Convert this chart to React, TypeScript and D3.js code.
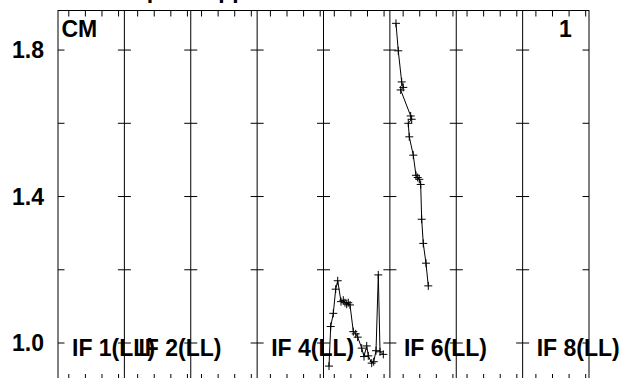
import React from "react";
import * as d3 from "d3";

const W = 627;
const H = 378;

const title = "Data with bandpass applied";
const panelLabels = ["IF 1(LL)", "IF 2(LL)", "", "IF 4(LL)", "", "IF 6(LL)", "", "IF 8(LL)"];
const yMajorTicks = [1.0, 1.4, 1.8];
const yAllTicks = [1.0, 1.2, 1.4, 1.6, 1.8];
const xTickValues = [0, 1, 2, 3];
const oddPanelDomain = [-0.65, 3.35];
const evenPanelDomain = [-0.8, 3.2];

// series in panel 5 (index 4)
const seriesATime = [-0.318, -0.216, -0.059, 0.085, 0.206, 0.405, 0.543, 0.646, 0.748, 0.845, 0.947, 1.146, 1.291, 1.411, 1.653, 1.791, 1.954, 2.05, 2.255, 2.376, 2.515, 2.653, 2.756, 2.955];
const seriesAValue = [0.937, 1.045, 1.081, 1.147, 1.17, 1.113, 1.117, 1.11, 1.106, 1.11, 1.104, 1.031, 1.025, 1.016, 0.986, 0.963, 0.992, 0.965, 0.945, 0.949, 0.979, 1.186, 0.976, 0.969];

// series in panel 6 (index 5)
const seriesBTime = [-0.432, -0.294, -0.089, 0.008, -0.149, 0.454, 0.514, 0.309, 0.369, 0.61, 0.773, 0.876, 0.972, 1.057, 1.117, 1.213, 1.376, 1.515];
const seriesBValue = [1.873, 1.798, 1.713, 1.698, 1.691, 1.62, 1.611, 1.6, 1.563, 1.513, 1.458, 1.452, 1.447, 1.433, 1.338, 1.272, 1.218, 1.156];

const series = [
  { panel: 4, t: seriesATime, v: seriesAValue },
  { panel: 5, t: seriesBTime, v: seriesBValue },
];

const FONT = "'Liberation Sans', Arial, Helvetica, sans-serif";

export default function App() {
  const left = 58;
  const right = 589;
  const top = 10.5;
  const bottom = 380;
  const nPanels = panelLabels.length;

  const panelEdge = d3.scaleLinear().domain([0, nPanels]).range([left, right]);
  const y = d3.scaleLinear().domain([0.899, 1.908]).range([bottom, top]);

  const panelX = (i: number) =>
    d3
      .scaleLinear()
      .domain(i % 2 === 0 ? oddPanelDomain : evenPanelDomain)
      .range([panelEdge(i), panelEdge(i + 1)]);

  const line = d3
    .line<[number, number]>()
    .x((d) => d[0])
    .y((d) => d[1]);

  const tickLen = 6;
  const yTickLen = 6.5;
  const fs = 23;

  return (
    <svg
      width={W}
      height={H}
      style={{ position: "absolute", left: 0, top: 0, background: "#fff" }}
      fontFamily={FONT}
    >
      <rect x={0} y={0} width={W} height={H} fill="#fff" />
      <text x={286} y={-2} textAnchor="end" fontSize={fs} fontWeight="bold" fill="#000">
        {title}
      </text>

      {/* frame */}
      <rect x={left} y={top} width={right - left} height={bottom - top} fill="none" stroke="#000" strokeWidth={1} />

      {/* panel dividers */}
      {d3.range(1, nPanels).map((i) => (
        <line key={"div" + i} x1={panelEdge(i)} x2={panelEdge(i)} y1={top} y2={bottom} stroke="#000" strokeWidth={1} />
      ))}

      {/* x ticks per panel */}
      {d3.range(nPanels).map((i) => {
        const sx = panelX(i);
        return xTickValues.map((t) => (
          <g key={"xt" + i + "-" + t}>
            <line x1={sx(t)} x2={sx(t)} y1={top} y2={top + tickLen} stroke="#000" strokeWidth={1} />
            <line x1={sx(t)} x2={sx(t)} y1={bottom} y2={bottom - tickLen} stroke="#000" strokeWidth={1} />
          </g>
        ));
      })}

      {/* y ticks at each panel edge */}
      {d3.range(0, nPanels + 1).map((i) => {
        const ex = panelEdge(i);
        const x1 = i === 0 ? ex : ex - yTickLen;
        const x2 = i === nPanels ? ex : ex + yTickLen;
        return yAllTicks.map((v) => (
          <line key={"yt" + i + "-" + v} x1={x1} x2={x2} y1={y(v)} y2={y(v)} stroke="#000" strokeWidth={1} />
        ));
      })}

      {/* y labels */}
      {yMajorTicks.map((v) => (
        <text
          key={"yl" + v}
          x={44}
          y={y(v)}
          dy="0.36em"
          textAnchor="end"
          fontSize={fs}
          fontWeight="bold"
          fill="#000"
        >
          {v.toFixed(1)}
        </text>
      ))}

      {/* panel labels */}
      {panelLabels.map((lab, i) =>
        lab ? (
          <text key={"pl" + i} x={panelEdge(i) + 14} y={356} fontSize={fs} fontWeight="bold" fill="#000">
            {lab}
          </text>
        ) : null
      )}

      <text x={61.5} y={37} fontSize={fs} fontWeight="bold" fill="#000">
        CM
      </text>
      <text x={559} y={37} fontSize={fs} fontWeight="bold" fill="#000">
        1
      </text>

      {/* data */}
      {series.map((s, si) => {
        const sx = panelX(s.panel);
        const pts: [number, number][] = s.t.map((t, k) => [sx(t), y(s.v[k])]);
        return (
          <g key={"s" + si}>
            <path d={line(pts) || ""} fill="none" stroke="#000" strokeWidth={1} />
            {pts.map((p, k) => (
              <g key={k}>
                <line x1={p[0] - 4} x2={p[0] + 4} y1={p[1]} y2={p[1]} stroke="#000" strokeWidth={1} />
                <line x1={p[0]} x2={p[0]} y1={p[1] - 4} y2={p[1] + 4} stroke="#000" strokeWidth={1} />
              </g>
            ))}
          </g>
        );
      })}
    </svg>
  );
}
